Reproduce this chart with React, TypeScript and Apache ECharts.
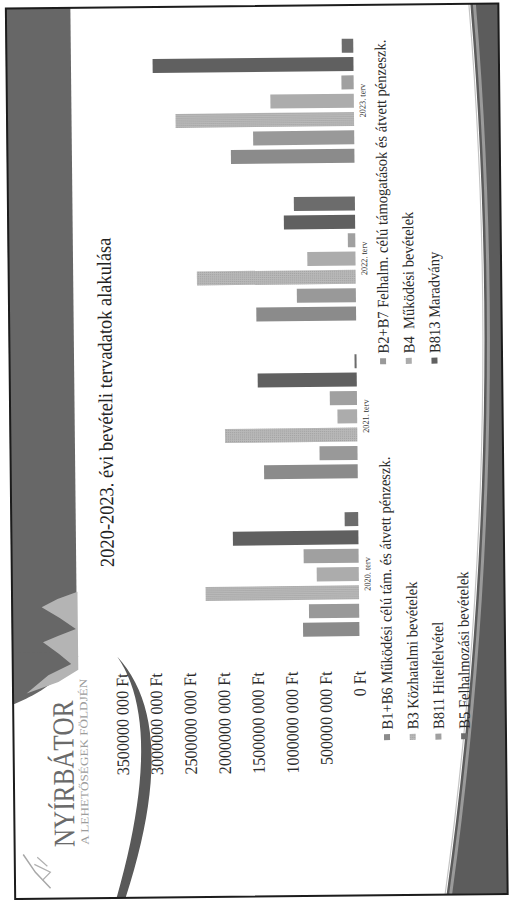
import React, { useEffect, useRef } from "react";
import * as echarts from "echarts";

const categories = ["2020. terv", "2021. terv", "2022. terv", "2023. terv"];
const seriesNames = [
  "B1+B6 Működési célú tám. és átvett pénzeszk.",
  "B2+B7 Felhalm. célú támogatások és átvett pénzeszk.",
  "B3 Közhatalmi bevételek",
  "B4  Működési bevételek",
  "B811 Hitelfelvétel",
  "B813 Maradvány",
  "B5 Felhalmozási bevételek",
];
const b1b6 = [830000000, 1380000000, 1470000000, 1820000000];
const b2b7 = [740000000, 560000000, 870000000, 1490000000];
const b3 = [2260000000, 1950000000, 2340000000, 2630000000];
const b4 = [620000000, 290000000, 710000000, 1230000000];
const b811 = [810000000, 400000000, 110000000, 180000000];
const b813 = [1850000000, 1460000000, 1050000000, 2960000000];
const b5 = [200000000, 30000000, 900000000, 170000000];
const yTickLabels = [
  "0 Ft",
  "500000 000 Ft",
  "1000000 000 Ft",
  "1500000 000 Ft",
  "2000000 000 Ft",
  "2500000 000 Ft",
  "3000000 000 Ft",
  "3500000 000 Ft",
];
const chartTitle = "2020-2023. évi bevételi tervadatok alakulása";
const logoTitle = "NYÍRBÁTOR";
const logoSubtitle = "A LEHETŐSÉGEK FÖLDJÉN";

const SERIF = "'Liberation Serif', 'DejaVu Serif', serif";
const colors = ["#8b8b8b", "#999999", "#b9b9b9", "#acacac", "#a0a0a0", "#606060", "#6c6c6c"];

// horizontal squeeze of the scanned slide (landscape X axis)
const SQ = 0.92;
const W = 900 / SQ;

type P = [number, number];
function quad(p0: P, c: P, p2: P, n = 24): P[] {
  const pts: P[] = [];
  for (let i = 0; i <= n; i++) {
    const t = i / n;
    const a = (1 - t) * (1 - t);
    const b = 2 * t * (1 - t);
    const d = t * t;
    pts.push([a * p0[0] + b * c[0] + d * p2[0], a * p0[1] + b * c[1] + d * p2[1]]);
  }
  return pts;
}

export default function App() {
  const ref = useRef<HTMLDivElement>(null);

  useEffect(() => {
    if (!ref.current) return;
    const chart = echarts.init(ref.current, undefined, { renderer: "svg" });
    const values = [b1b6, b2b7, b3, b4, b811, b813, b5];
    const legendText = {
      fontFamily: SERIF,
      fontSize: 15.8,
      lineHeight: 17,
      color: "#2a2a2a",
    };

    const topCurve: P[] = [[250, 10], [250, 75], ...quad([245, 76], [214, 52], [198, 10])];
    const leaf: P[] = [
      [310, 76], [303, 56], [295, 40], [284, 58], [273, 74], [266, 56],
      [260, 41], [248, 57], [238, 69], [227, 46], [209, 24], [220, 56],
      [232, 76],
    ];
    const arc: P[] = [
      ...quad([245, 115], [175, 178.5], [4, 121]),
      ...quad([4, 112], [175, 162.5], [245, 115]),
    ];
    const bottomBand: P[] = [...quad([4, 442], [446.5, 507.5], [894, 475]), [894, 503], [4, 503]];
    const bandEdge = quad([4, 440.5], [446.5, 506], [894, 473.5]);
    const bandStripe = quad([4, 446], [446.5, 511.5], [894, 479]);

    const option: any = {
      animation: false,
      backgroundColor: "#ffffff",
      title: {
        text: chartTitle,
        left: 334.6 / SQ,
        top: 96,
        padding: 0,
        textStyle: { fontFamily: SERIF, fontSize: 20, fontWeight: "normal", color: "#222" },
      },
      legend: [
        {
          orient: "vertical",
          left: 158.5 / SQ,
          top: 375.5,
          padding: 0,
          itemWidth: 6 / SQ,
          itemHeight: 6,
          itemGap: 8.7,
          icon: "rect",
          data: [seriesNames[0], seriesNames[2], seriesNames[4], seriesNames[6]],
          textStyle: legendText,
        },
        {
          orient: "vertical",
          left: 534.5 / SQ,
          top: 375.5,
          padding: 0,
          itemWidth: 6 / SQ,
          itemHeight: 6,
          itemGap: 8.7,
          icon: "rect",
          data: [seriesNames[1], seriesNames[3], seriesNames[5]],
          textStyle: legendText,
        },
      ],
      grid: { left: 246 / SQ, right: 22.6 / SQ, top: 120, bottom: 154.5, containLabel: false },
      xAxis: {
        type: "category",
        data: categories,
        axisLine: { show: false },
        axisTick: { show: false },
        axisLabel: { fontFamily: SERIF, fontSize: 9, margin: 4, color: "#333" },
      },
      yAxis: {
        type: "value",
        min: 0,
        max: 3500000000,
        interval: 500000000,
        splitLine: { show: false },
        axisLine: { show: false },
        axisTick: { show: false },
        axisLabel: {
          fontFamily: SERIF,
          fontSize: 17.5,
          margin: 18 / SQ,
          color: "#2a2a2a",
          formatter: (v: number) => yTickLabels[Math.round(v / 500000000)] ?? "",
        },
      },
      series: values.map((d, i) => ({
        type: "bar",
        name: seriesNames[i],
        data: d,
        barWidth: 14 / SQ,
        barGap: "31%",
        itemStyle: {
          color: colors[i],
          decal:
            i === 2
              ? {
                  symbol: "rect",
                  symbolSize: 1,
                  color: "rgba(110,110,110,0.35)",
                  dashArrayX: [1, 1],
                  dashArrayY: [1, 1],
                }
              : undefined,
        },
      })),
      graphic: [
        {
          type: "group",
          x: 0,
          y: 0,
          scaleX: 1 / SQ,
          children: [
            {
              type: "rect",
              z: 0,
              shape: { x: 249, y: 10, width: 645, height: 65 },
              style: { fill: "#676767" },
            },
            { type: "polygon", z: 0, shape: { points: topCurve }, style: { fill: "#676767" } },
            { type: "polygon", z: 1, shape: { points: leaf }, style: { fill: "#b4b4b4" } },
            { type: "polygon", z: 1, shape: { points: arc }, style: { fill: "#595959" } },
            {
              type: "polyline",
              z: 1,
              shape: { points: [[14, 46], [30, 31], [48, 19]] },
              style: { stroke: "#a8a8a8", lineWidth: 1.5, fill: "none" },
            },
            {
              type: "polyline",
              z: 1,
              shape: { points: [[22, 38], [30, 46], [38, 30]] },
              style: { stroke: "#b0b0b0", lineWidth: 1.2, fill: "none" },
            },
            {
              type: "polyline",
              z: 1,
              shape: { points: [[36, 43], [45, 33]] },
              style: { stroke: "#b0b0b0", lineWidth: 1.2, fill: "none" },
            },
            {
              type: "text",
              z: 2,
              x: 55,
              y: 60,
              scaleX: 0.84,
              style: {
                text: logoTitle,
                fontFamily: SERIF,
                fontSize: 30,
                fill: "#6a6a6a",
                verticalAlign: "middle",
                align: "left",
              },
            },
            {
              type: "text",
              z: 2,
              x: 57,
              y: 81,
              scaleX: 1.2,
              style: {
                text: logoSubtitle,
                fontFamily: SERIF,
                fontSize: 11,
                fill: "#9c9c9c",
                verticalAlign: "middle",
                align: "left",
              },
            },
            { type: "polygon", z: 0, shape: { points: bottomBand }, style: { fill: "#5c5c5c" } },
            {
              type: "polyline",
              z: 1,
              shape: { points: bandEdge },
              style: { fill: "none", stroke: "#c4c4c4", lineWidth: 1.2 },
            },
            {
              type: "polyline",
              z: 1,
              shape: { points: bandStripe },
              style: { fill: "none", stroke: "#9a9a9a", lineWidth: 3 },
            },
            {
              type: "rect",
              z: 3,
              shape: { x: 3.5, y: 10.5, width: 890.5, height: 492.5 },
              style: { fill: "none", stroke: "#1c1c1c", lineWidth: 2 },
            },
          ],
        },
      ],
    };
    chart.setOption(option);
    return () => chart.dispose();
  }, []);

  return (
    <div
      style={{
        position: "fixed",
        left: 0,
        top: 0,
        width: 512,
        height: 900,
        overflow: "hidden",
        background: "#ffffff",
      }}
    >
      <div
        ref={ref}
        style={{
          position: "absolute",
          left: 0,
          top: 0,
          width: W,
          height: 512,
          transformOrigin: "0 0",
          transform: `translate(256px, 450px) rotate(-90.6deg) scale(${SQ}, 1) translate(${-W / 2}px, -256px)`,
        }}
      />
    </div>
  );
}
